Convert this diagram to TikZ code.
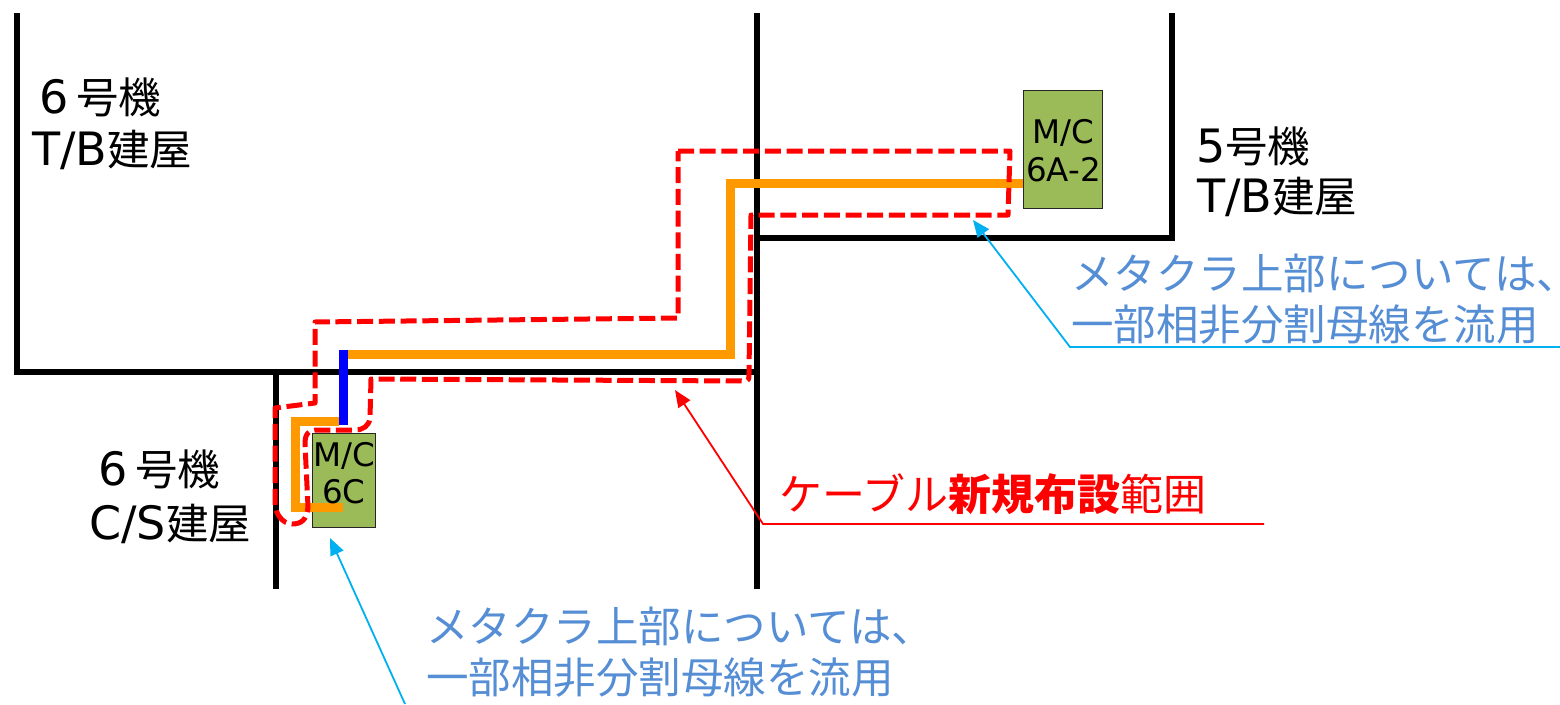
\documentclass[tikz,border=0pt]{standalone}
\usepackage{fontspec}
\setmainfont{DejaVu Sans}
\newfontfamily\jp{Noto Sans CJK JP}
\newfontfamily\jpp[RawFeature=+palt]{Noto Sans CJK JP}
\newcommand{\lat}[1]{{\fontsize{46}{50}\selectfont\rmfamily #1}}
\usetikzlibrary{arrows.meta}
\definecolor{wire}{HTML}{FF9900}
\definecolor{bus}{HTML}{0000FF}
\definecolor{panel}{HTML}{9BBB59}
\definecolor{call}{HTML}{00B0F0}
\definecolor{note}{HTML}{558ED5}
\tikzset{
  wall/.style={line width=6pt,black,line cap=rect},
  cable/.style={line width=9pt,wire,line join=miter},
  busbar/.style={line width=9pt,bus},
  scope line/.style={line width=5pt,red,dash pattern=on 16pt off 5.7pt,line join=round},
  leader/.style={line width=1.8pt,-{Triangle[length=17pt,width=14pt]}},
  panelbox/.style={draw=black!85,line width=1.2pt,fill=panel,anchor=north west,inner sep=0pt},
  paneltext/.style={anchor=base,inner sep=0pt,font=\fontsize{32.5}{38}\selectfont},
  label/.style={anchor=base west,inner sep=0pt,font=\fontsize{42.5}{50}\selectfont\jp},
}
\begin{document}
\begin{tikzpicture}[x=1pt,y=-1pt]
\useasboundingbox (0,0) rectangle (1560,704);
% walls
\draw[wall] (17,16) -- (17,372) -- (757,372);
\draw[wall] (757,16) -- (757,586);
\draw[wall] (276,372) -- (276,586);
\draw[wall] (757,238) -- (1172,238) -- (1172,16);
% panels
\node[panelbox,minimum width=63pt,minimum height=94pt] (mc6c) at (312,433) {};
\node[panelbox,minimum width=79pt,minimum height=118pt] (mc6a) at (1023,90) {};
% cables
\coordinate (busTop) at (343,350);
\coordinate (busBot) at (343,425);
\draw[cable] (mc6a.west |- 0,183) -- (730,183) -- (730,354) -- (338.5,354);
\draw[cable] (338.5,421) -- (295,421) -- (295,507) -- (343,507);
\draw[busbar] (busTop) -- (busBot);
% panel captions
\node[paneltext] (t1) at (344,466) {M/C};
\node[paneltext] (t2) at (344,503) {6C};
\node[paneltext] (t3) at (1063.5,143) {M/C};
\node[paneltext] (t4) at (1063.5,181) {6A-2};
% red dashed extent
\draw[scope line] (678,151) -- (1010,151) -- (1008,215) -- (751,215) -- (749,374)
  .. controls (749,379) and (749,381) .. (744,381) -- (371,379) -- (370,418)
  .. controls (369,426) and (363,430) .. (355,430) -- (318,430)
  .. controls (308,430) and (305,434) .. (305,444) -- (308,507)
  .. controls (307,520) and (301,524) .. (292,524)
  .. controls (283,524) and (275,514) .. (275,503) -- (275,408) -- (315,403) -- (315,322) -- (678,318) -- cycle;
% labels
\node[label] (l1) at (39,113) {\lat{6}\hspace{8pt}号機};
\node[label] (l2) at (32,165) {\lat{T/B}建屋};
\node[label] (l3) at (98,485) {\lat{6}\hspace{8pt}号機};
\node[label] (l4) at (89,539) {\lat{C/S}建屋};
\node[label] (l5) at (1196,162) {\lat{5}号機};
\node[label] (l6) at (1197,212) {\lat{T/B}建屋};
\node[label,text=note] (n1) at (1071,289) {メタクラ上部については{\jpp 、}};
\node[label,text=note] (n2) at (1071,340) {一部相非分割母線を流用};
\node[label,text=note] (n3) at (426,642) {メタクラ上部については{\jpp 、}};
\node[label,text=note] (n4) at (426,693) {一部相非分割母線を流用};
\node[label,text=red,font=\fontsize{43}{50}\selectfont\jp] (r1) at (779,510) {ケーブル\textbf{新規布設}範囲};
% leaders
\coordinate (a1) at (1560,347); \coordinate (a2) at (1070,347); \coordinate (a3) at (973,220);
\draw[leader,call] (a1) -- (a2) -- (a3);
\coordinate (b1) at (405,704); \coordinate (b2) at (330,538);
\draw[leader,call] (b1) -- (b2);
\coordinate (c1) at (1264,524); \coordinate (c2) at (763,524); \coordinate (c3) at (675,390);
\draw[leader,red] (c1) -- (c2) -- (c3);
\end{tikzpicture}
\end{document}
